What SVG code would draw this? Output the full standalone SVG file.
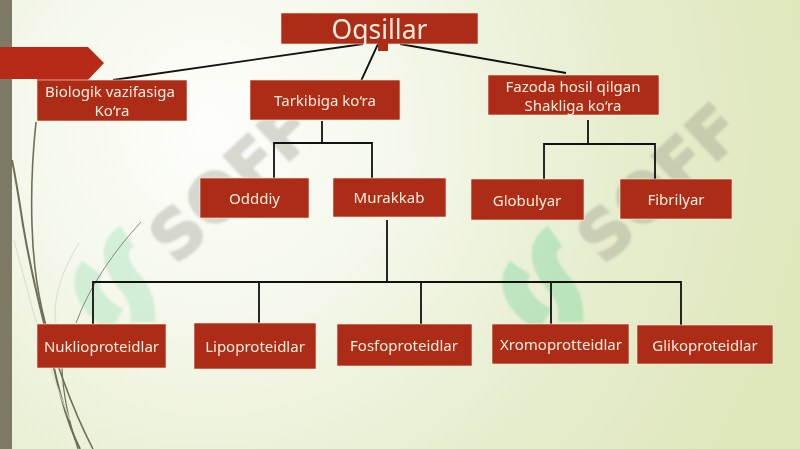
<svg xmlns="http://www.w3.org/2000/svg" width="800" height="449" viewBox="0 0 800 449">
<defs>
<radialGradient id="bg" gradientUnits="userSpaceOnUse" cx="210" cy="130" r="600">
<stop offset="0" stop-color="#fdfefb"/><stop offset="0.3" stop-color="#f5f8ec"/><stop offset="0.7" stop-color="#e6edcd"/><stop offset="1" stop-color="#dfe7bd"/>
</radialGradient>
<filter id="soft" x="-20%" y="-20%" width="140%" height="140%"><feGaussianBlur stdDeviation="1"/></filter>
<path id="logo" d="M127 236C110 248 114 265 132 285C143 298 143 310 143 322M92 268C80 285 90 305 117 320" fill="none" stroke="#63cf92" stroke-width="25"/>
</defs>
<style>
.box{fill:#ad2c17;stroke:#fff0dc;stroke-width:.6}
.t{fill:#ffeeda;font-family:"Noto Sans","Open Sans",sans-serif;font-size:15px;text-anchor:middle}
.c{fill:none;stroke:#111;stroke-width:1.8}
.wm{fill:#8e8e80;stroke:#8e8e80;stroke-width:2;opacity:.33;font-family:"DejaVu Sans",sans-serif;font-weight:700;font-size:66px}
.curve{fill:none;stroke:#6f6e57}
</style>
<rect width="800" height="449" fill="url(#bg)"/>
<rect width="12" height="449" fill="#7c7a65"/>
<g id="watermarks" filter="url(#soft)">
<use href="#logo" opacity=".24"/>
<use href="#logo" x="428" opacity=".34"/>
<text class="wm" transform="translate(176 266) rotate(-43)">SOFF</text>
<text class="wm" transform="translate(604 266) rotate(-43)">SOFF</text>
</g>
<g id="decor">
<path class="curve" stroke-width="1.6" d="M36 122C32 160 31 195 32 225C33 265 38 295 45 322C52 350 70 405 93 449"/>
<path class="curve" stroke-width="2" d="M12 160C17 185 20 205 23 225C28 255 38 300 47 335C55 375 65 420 80 449"/>
<path class="curve" stroke-width="1.2" d="M62 368C63 395 70 425 78 449"/>
<path class="curve" stroke-width=".8" d="M141 222C115 250 90 285 76 323"/>
<path d="M79 243C62 270 52 300 56 323M14 240C30 300 45 360 70 420" fill="none" stroke="#d9dccb" stroke-width="1"/>
<polygon points="0,47 88,47 104,63 88,80 37,80 37,79 0,79" fill="#b72a18"/>
</g>
<g id="connectors">
<path class="c" d="M363 44L113 80M378 44L361 81M400 44L566 73"/>
<path class="c" d="M322 121V143M274 178V143H372V178"/>
<path class="c" d="M588 120V144M544 179V144H655V179"/>
<path class="c" d="M387 220V282M93 324V282H681V325M259 282V323M421 282V324M551 282V324"/>
</g>
<g id="n-root"><rect class="box" x="281" y="13" width="197" height="31"/><rect x="378" y="43" width="10" height="8" fill="#ad2c17"/><text class="t" x="379.500" y="39" style="font-size:26.500px">Oqsillar</text></g>
<g id="n-bio"><rect class="box" x="37" y="80" width="150" height="41"/><text class="t" x="110" y="97">Biologik vazifasiga</text><text class="t" x="112" y="116">Ko‘ra</text></g>
<g id="n-tark"><rect class="box" x="250" y="80" width="150" height="40"/><text class="t" x="325" y="106">Tarkibiga ko‘ra</text></g>
<g id="n-faz"><rect class="box" x="488" y="75" width="171" height="40"/><text class="t" x="573" y="92">Fazoda hosil qilgan</text><text class="t" x="573" y="111">Shakliga ko‘ra</text></g>
<g id="n-odd"><rect class="box" x="200" y="178" width="109" height="40"/><text class="t" x="254.500" y="204">Odddiy</text></g>
<g id="n-mur"><rect class="box" x="333" y="178" width="113" height="39"/><text class="t" x="389" y="203">Murakkab</text></g>
<g id="n-glo"><rect class="box" x="471" y="179" width="113" height="41"/><text class="t" x="527" y="206">Globulyar</text></g>
<g id="n-fib"><rect class="box" x="620" y="179" width="112" height="40"/><text class="t" x="676" y="205">Fibrilyar</text></g>
<g id="n-nuk"><rect class="box" x="37" y="324" width="129" height="44"/><text class="t" x="101.500" y="352">Nuklioproteidlar</text></g>
<g id="n-lip"><rect class="box" x="194" y="323" width="122" height="46"/><text class="t" x="255" y="352">Lipoproteidlar</text></g>
<g id="n-fos"><rect class="box" x="337" y="324" width="135" height="42"/><text class="t" x="404" y="351">Fosfoproteidlar</text></g>
<g id="n-xro"><rect class="box" x="492" y="324" width="137" height="40"/><text class="t" x="561" y="350">Xromoprotteidlar</text></g>
<g id="n-gli"><rect class="box" x="637" y="325" width="136" height="39"/><text class="t" x="705" y="351">Glikoproteidlar</text></g>
</svg>
